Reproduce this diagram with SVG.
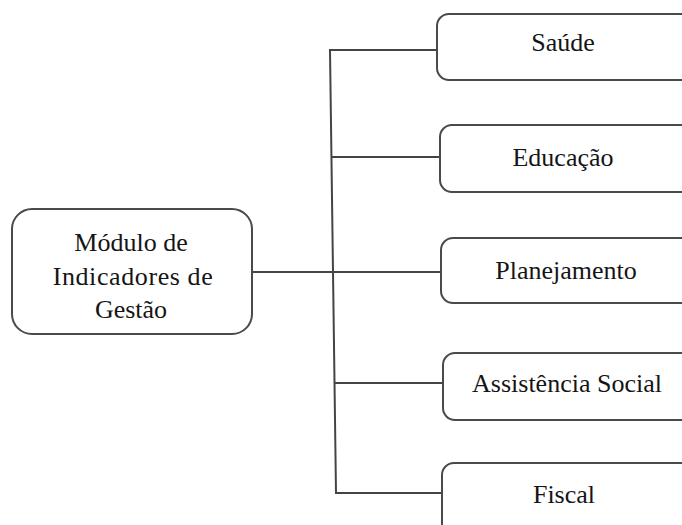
<svg xmlns="http://www.w3.org/2000/svg" width="682" height="525" viewBox="0 0 682 525">
<style>
.box{fill:#fff;stroke:#4a4a4a;stroke-width:2}
.conn{fill:none;stroke:#444;stroke-width:2}
.t{font-family:'Liberation Serif','Times New Roman',serif;font-size:26px;fill:#151515;text-anchor:middle}
</style>
<rect width="682" height="525" fill="#fff"/>
<g id="connectors">
<path class="conn" d="M437,50 H330 L336,493 H442"/>
<path class="conn" d="M332,157 H440"/>
<path class="conn" d="M252,272 H441"/>
<path class="conn" d="M334,383 H443"/>
</g>
<g id="modulo">
<rect class="box" x="12" y="209" width="240" height="125" rx="20"/>
<text class="t" x="131" y="251">Módulo de</text>
<text class="t" x="133" y="285" letter-spacing="0.6">Indicadores de</text>
<text class="t" x="131" y="318">Gestão</text>
</g>
<g id="saude">
<rect class="box" x="437" y="14" width="270" height="66" rx="12"/>
<text class="t" x="563" y="51">Saúde</text>
</g>
<g id="educacao">
<rect class="box" x="440" y="125" width="270" height="67" rx="12"/>
<text class="t" x="563" y="166">Educação</text>
</g>
<g id="planejamento">
<rect class="box" x="441" y="238" width="270" height="65" rx="12"/>
<text class="t" x="566" y="279">Planejamento</text>
</g>
<g id="assistencia">
<rect class="box" x="443" y="353" width="270" height="67" rx="12"/>
<text class="t" x="567" y="392">Assistência Social</text>
</g>
<g id="fiscal">
<rect class="box" x="442" y="463" width="270" height="80" rx="12"/>
<text class="t" x="564" y="503">Fiscal</text>
</g>
</svg>
